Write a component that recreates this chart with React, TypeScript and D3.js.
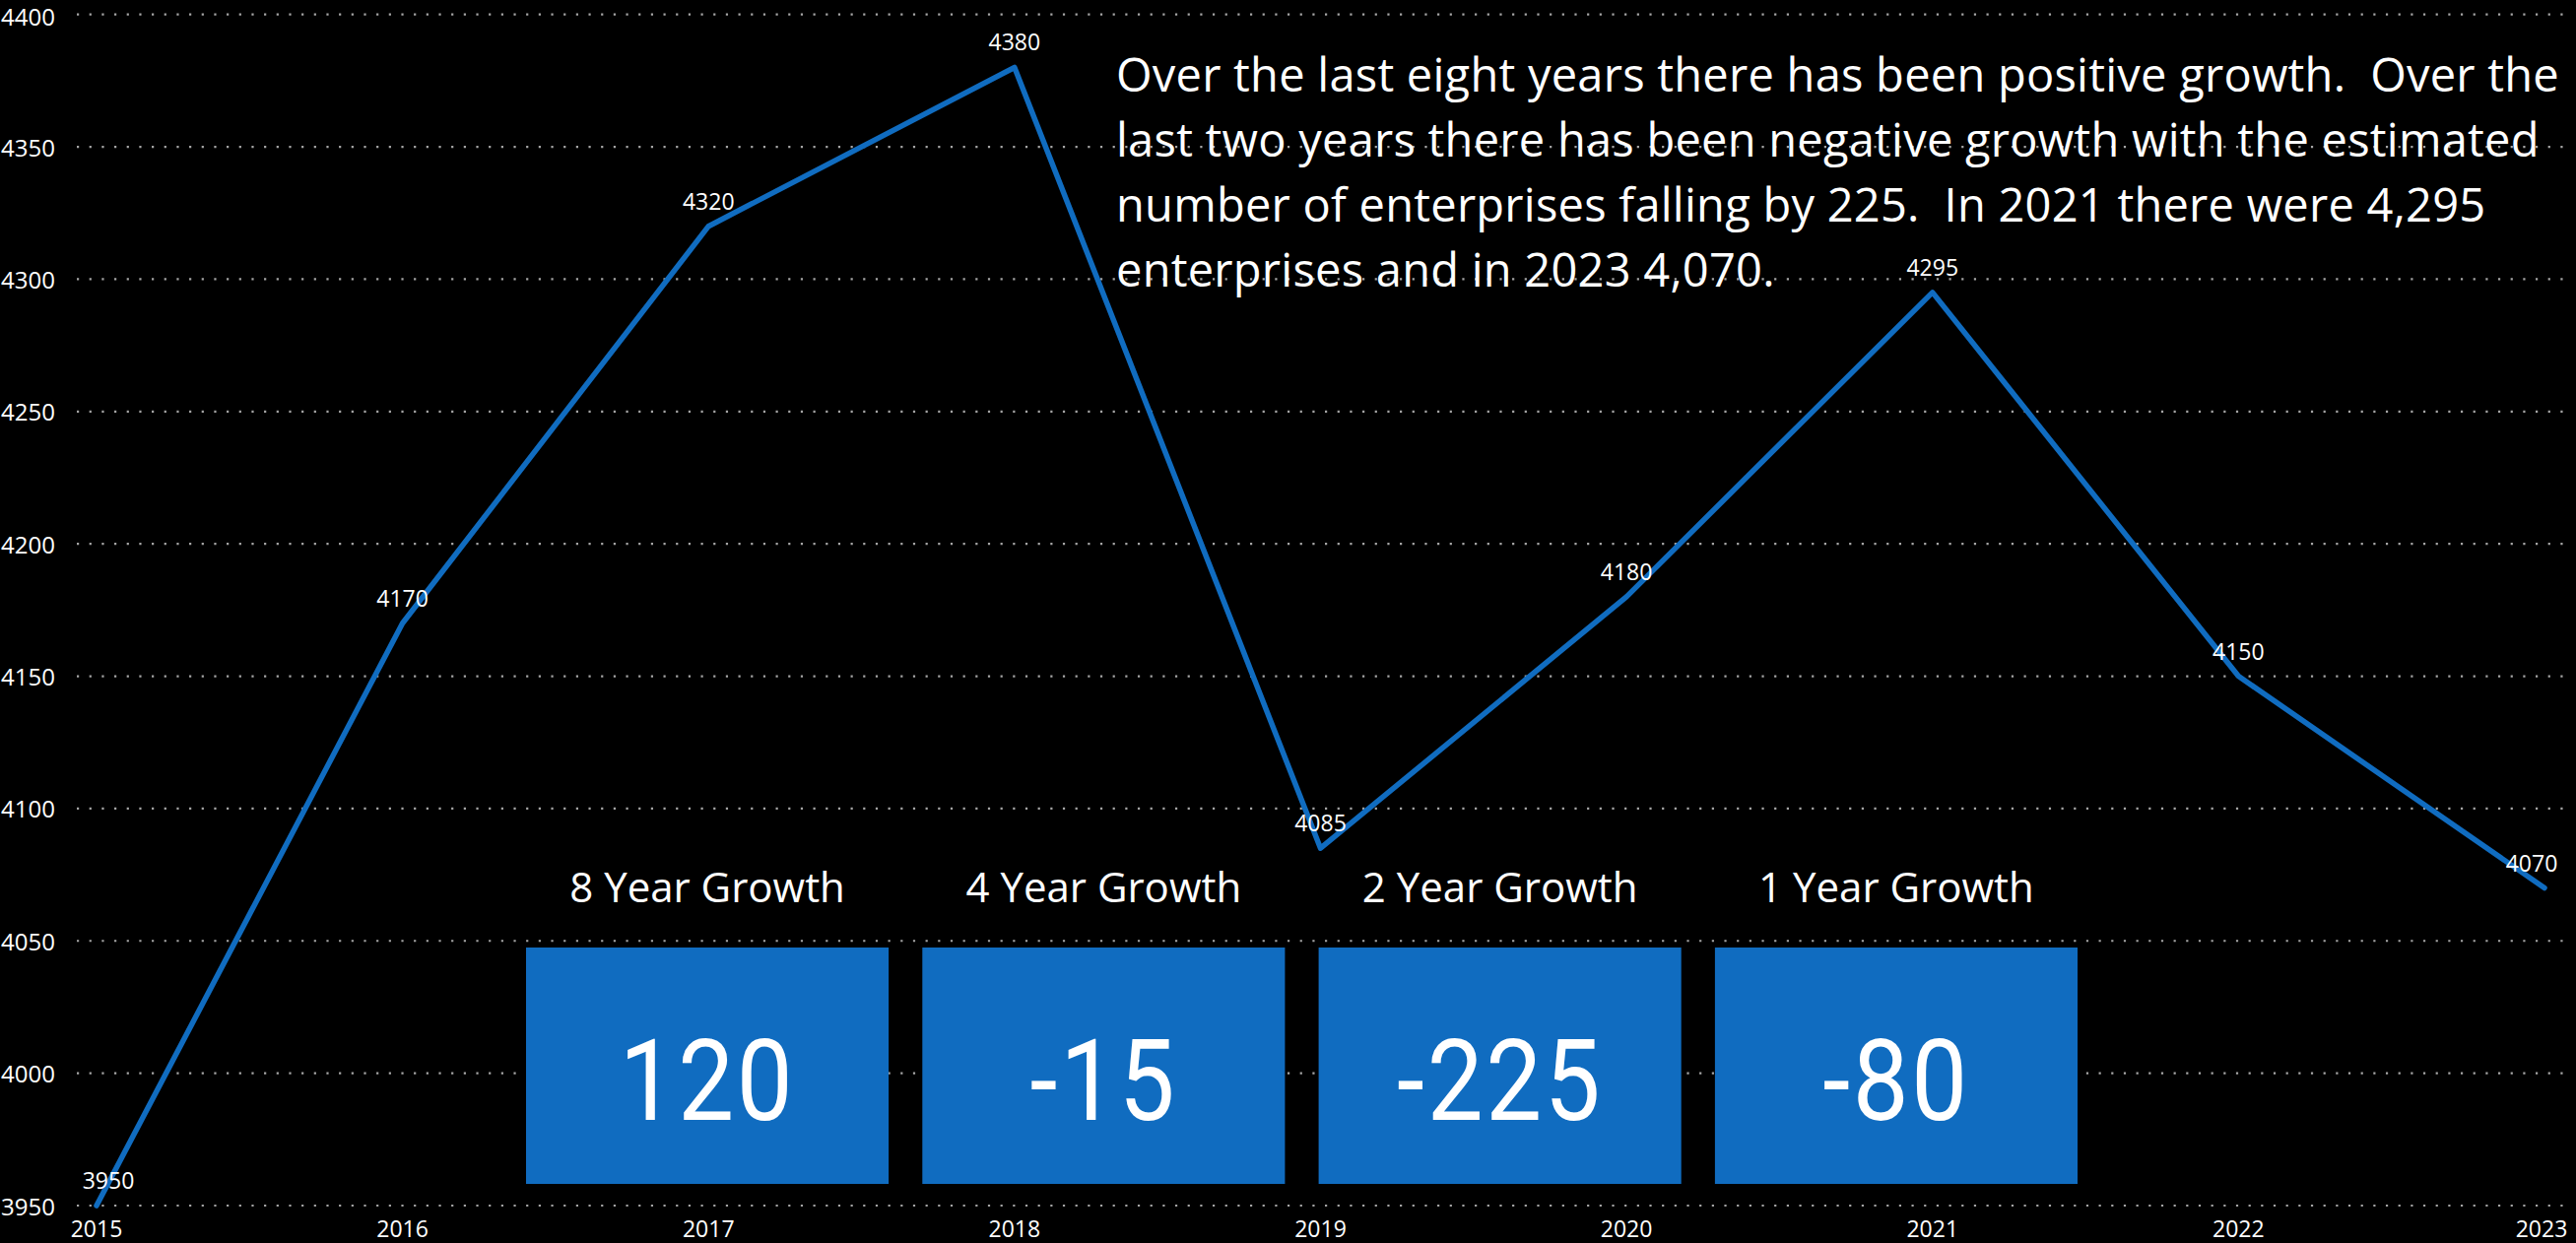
import React from "react";
import * as d3 from "d3";

const years = [2015, 2016, 2017, 2018, 2019, 2020, 2021, 2022, 2023];
const enterprises = [3950, 4170, 4320, 4380, 4085, 4180, 4295, 4150, 4070];
const yTicks = [3950, 4000, 4050, 4100, 4150, 4200, 4250, 4300, 4350, 4400];
const growthLabels = ["8 Year Growth", "4 Year Growth", "2 Year Growth", "1 Year Growth"];
const growthValues = [120, -15, -225, -80];
const paragraphLines = [
  "Over the last eight years there has been positive growth.  Over the",
  "last two years there has been negative growth with the estimated",
  "number of enterprises falling by 225.  In 2021 there were 4,295",
  "enterprises and in 2023 4,070.",
];

const W = 2615;
const H = 1262;
const FONT = "'Segoe UI', 'Open Sans', 'Noto Sans', sans-serif";
const BLUE = "#106cc0";

export default function App() {
  const x = d3.scaleLinear().domain([2015, 2023]).range([98, 2583]);
  const y = d3.scaleLinear().domain([3950, 4400]).range([1224, 14.7]);
  const line = d3
    .line<number>()
    .x((_, i) => x(years[i]))
    .y((d) => y(d));
  const band = d3.scaleBand<string>().domain(growthLabels).range([534, 2109]).paddingInner(0.085).paddingOuter(0);

  return (
    <svg
      width={W}
      height={H}
      style={{ position: "fixed", left: 0, top: 0, background: "#000", display: "block" }}
    >
      <rect x={0} y={0} width={W} height={H} fill="#000" />
      {yTicks.map((t) => (
        <g key={t}>
          <line
            x1={78}
            x2={2603}
            y1={y(t)}
            y2={y(t)}
            stroke="#a6a6a6"
            strokeWidth={2.2}
            strokeDasharray="2.2 10.47"
          />
          <text
            x={56}
            y={Math.max(y(t), 16)}
            textAnchor="end"
            dominantBaseline="central"
            fill="#fff"
            fontFamily={FONT}
            fontSize={24}
          >
            {t}
          </text>
        </g>
      ))}
      {years.map((yr) => (
        <text
          key={yr}
          x={Math.min(x(yr), 2580)}
          y={1256}
          textAnchor="middle"
          fill="#fff"
          fontFamily={FONT}
          fontSize={23}
        >
          {yr}
        </text>
      ))}
      <path d={line(enterprises) || ""} fill="none" stroke={BLUE} strokeWidth={5.5} strokeLinejoin="round" strokeLinecap="round" />
      {enterprises.map((v, i) => (
        <text
          key={i}
          x={Math.max(110, Math.min(2570, x(years[i])))}
          y={y(v) - 17}
          textAnchor="middle"
          fill="#fff"
          fontFamily={FONT}
          fontSize={23}
        >
          {v}
        </text>
      ))}
      {paragraphLines.map((l, i) => (
        <text
          key={i}
          x={1133}
          y={93 + i * 66}
          fill="#fff"
          fontFamily={FONT}
          fontSize={47}
          letterSpacing={0.25}
          style={{ whiteSpace: "pre" }}
        >
          {l}
        </text>
      ))}
      {growthLabels.map((g, i) => {
        const cx = (band(g) as number) + band.bandwidth() / 2;
        return (
          <g key={g}>
            <text x={cx} y={916} textAnchor="middle" fill="#fff" fontFamily={FONT} fontSize={42}>
              {g}
            </text>
            <rect x={band(g)} y={962} width={band.bandwidth()} height={240} fill={BLUE} />
            <g transform={`translate(${cx},1137) scale(0.88,1)`}>
              <text
                x={0}
                y={0}
                textAnchor="middle"
                fill="#fff"
                fontFamily="Roboto, 'DejaVu Sans Condensed', sans-serif"
                fontSize={115}
                letterSpacing={3}
              >
                {String(growthValues[i])}
              </text>
            </g>
          </g>
        );
      })}
    </svg>
  );
}
